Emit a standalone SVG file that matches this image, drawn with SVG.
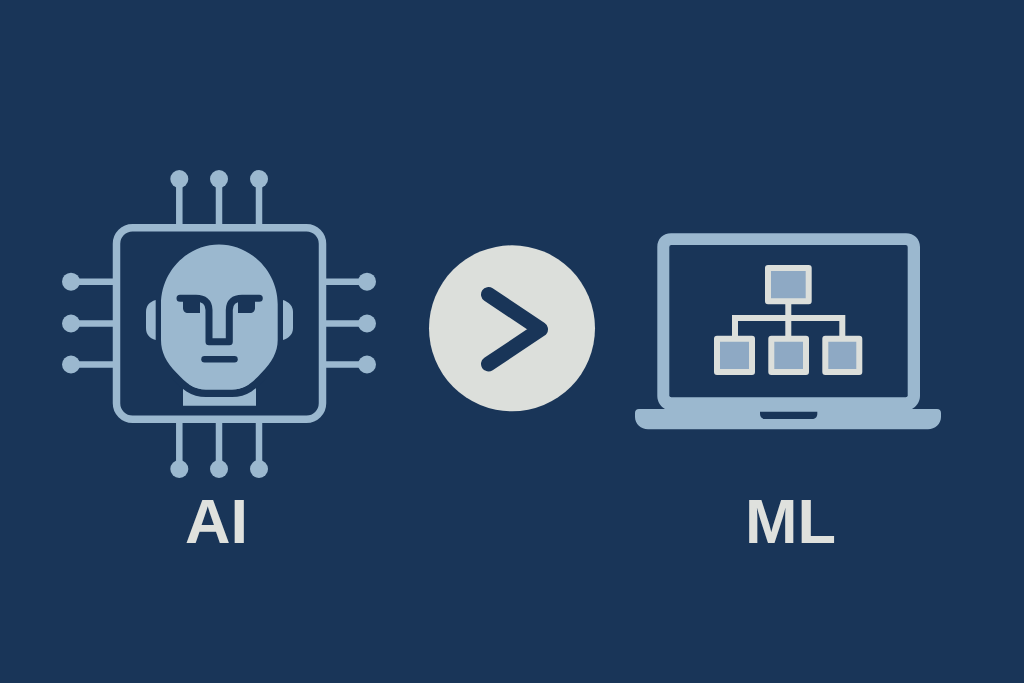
<svg xmlns="http://www.w3.org/2000/svg" width="1024" height="683" viewBox="0 0 1024 683">
<style>
.bg{fill:#193558}
.lt{fill:#9bb8cf}
.pin{stroke:#9bb8cf;stroke-width:6.5;fill:none}
.dk{stroke:#193558;fill:none;stroke-linecap:round;stroke-linejoin:round}
.org{stroke:#dcdfdb;stroke-width:6;fill:none}
.box{fill:#8ea9c4;stroke:#dcdfdb;stroke-width:6;stroke-linejoin:round}
.lbl{font-family:"Liberation Sans",Arial,sans-serif;font-weight:700;font-size:63px;fill:#dfe1dd;text-anchor:middle}
</style>
<rect class="bg" width="1024" height="683"/>
<g id="ai-chip">
<g id="chip-pins">
<path class="pin" d="M179.3 179V224M219 179V224M259 179V224M179.3 423V469M219 423V469M259 423V469M71 281.7H113M71 323.5H113M71 364.5H113M326 281.7H367M326 323.5H367M326 364.5H367"/>
<g class="lt">
<circle cx="179.3" cy="179" r="9"/><circle cx="219" cy="179" r="9"/><circle cx="259" cy="179" r="9"/>
<circle cx="179.3" cy="469" r="9"/><circle cx="219" cy="469" r="9"/><circle cx="259" cy="469" r="9"/>
<circle cx="71" cy="281.7" r="9"/><circle cx="71" cy="323.5" r="9"/><circle cx="71" cy="364.5" r="9"/>
<circle cx="367" cy="281.7" r="9"/><circle cx="367" cy="323.5" r="9"/><circle cx="367" cy="364.5" r="9"/>
</g>
</g>
<rect x="116.5" y="227.7" width="206" height="191.6" rx="16" fill="#193558" stroke="#9bb8cf" stroke-width="7.5"/>
<g id="face">
<path class="lt" d="M183 384H256V405.7H183Z"/>
<path d="M174 375C184 386 192 393.3 206 393.3H232C246 393.3 254 386 264 375" stroke="#193558" stroke-width="7.5" fill="none"/>
<path class="lt" d="M155.7 300V340C149 338 146 334 146 328V312C146 306 149 302 155.7 300Z"/>
<path class="lt" d="M283 300V340C289 338 293 334 293 328V312C293 306 289 302 283 300Z"/>
<path class="lt" d="M219 244.5C251 244.5 277.7 272 277.7 304V340C277.7 352 272 362 261.3 373C252 383 245 389.5 232 389.5H206C193 389.5 186 383 176.7 373C166 362 161 352 161 340V304C161 272 187 244.5 219 244.5Z"/>
<path class="dk" stroke-width="7" d="M180 298.3H196C204 298.3 209 302 209 310V341.7H229.3V310C229.3 302 234 298.3 242 298.3H259.3"/>
<path fill="#193558" d="M183 299H200V313H188C185 313 183 311 183 308Z"/>
<path fill="#193558" d="M238 299H255V308C255 311 253 313 250 313H238Z"/>
<path class="dk" stroke-width="6.5" d="M204.5 359.3H234.5"/>
</g>
</g>
<g id="comparison">
<circle cx="512" cy="328.3" r="83" fill="#dcdfdb"/>
<path class="dk" stroke-width="15" d="M488.5 294.5L540.5 329.3L488.5 364"/>
</g>
<g id="ml-laptop">
<path class="lt" d="M657.3 247C657.3 239 663 233.3 671 233.3H906C914 233.3 920 239 920 247V396C920 402 916 407 912 409H937C939.5 409 941 410.5 941 413V417C941 424 935 429.3 928 429.3H648C641 429.3 635 424 635 417V413C635 410.5 636.5 409 639 409H665C661 407 657.3 402 657.3 396Z"/>
<rect x="669.3" y="245" width="238.4" height="152.3" rx="2" fill="#193558"/>
<path fill="#193558" d="M760 411.7H817.3V414C817.3 417 815 419 812 419H765C762 419 760 417 760 414Z"/>
<g id="org-chart">
<path class="org" d="M788.3 304V336M735 336V318H842.3V336"/>
<rect class="box" x="768" y="268" width="40.7" height="33.3"/>
<rect class="box" x="717" y="338.7" width="35" height="33.3"/>
<rect class="box" x="771.3" y="338.7" width="34.7" height="33.3"/>
<rect class="box" x="825.3" y="338.7" width="34" height="33.3"/>
</g>
</g>
<text id="label-ai" class="lbl" x="216.5" y="543">AI</text>
<text id="label-ml" class="lbl" x="790.5" y="543">ML</text>
</svg>
